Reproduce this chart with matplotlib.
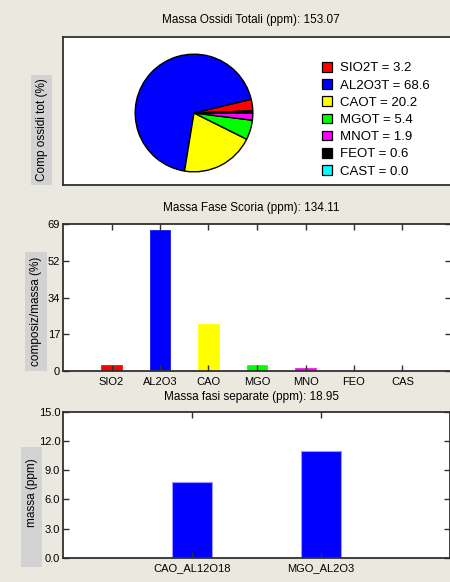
import numpy as np
import matplotlib
matplotlib.use("Agg")
import matplotlib.pyplot as plt
from matplotlib.patches import Rectangle

plt.rcParams['font.family'] = ['Liberation Sans', 'DejaVu Sans']

# ossidi totali (pie)
oxide_names = ["SIO2T", "AL2O3T", "CAOT", "MGOT", "MNOT", "FEOT", "CAST"]
oxide_pct = [3.2, 68.6, 20.2, 5.4, 1.9, 0.6, 0.0]
oxide_colors = ["#ff0000", "#0000ff", "#ffff00", "#00ff00", "#ff00ff", "#000000", "#00ffff"]
mass_total = 153.07

# fase scoria (bar)
slag_names = ["SIO2", "AL2O3", "CAO", "MGO", "MNO", "FEO", "CAS"]
slag_pct = [2.7, 66.2, 21.9, 2.7, 1.5, 0.0, 0.0]
slag_colors = ["#ff0000", "#0000ff", "#ffff00", "#00ff00", "#ff00ff", "#000000", "#00ffff"]
slag_yticks = [0, 17.25, 34.5, 51.75, 69]
slag_ylabels = ["0", "17", "34", "52", "69"]
mass_slag = 134.11

# fasi separate (bar)
phase_names = ["CAO_AL12O18", "MGO_AL2O3"]
phase_mass = [7.8, 11.0]
phase_yticks = [0, 3, 6, 9, 12, 15]
mass_phases = 18.95

W, H = 450, 582
bg = "#ebe9df"
fig = plt.figure(figsize=(W / 100, H / 100), dpi=100, facecolor=bg)


def frac(x0, y0, x1, y1):
    # pixel box (top-left origin) -> figure fraction rect
    return [x0 / W, 1 - y1 / H, (x1 - x0) / W, (y1 - y0) / H]


def style(ax):
    for s in ax.spines.values():
        s.set_color("#303030")
        s.set_linewidth(1.3)
    ax.tick_params(direction="in", length=4, width=1, color="#303030",
                   top=True, right=True, labelsize=8, pad=2)
    ax.tick_params(axis="x", pad=4)


def ylabel_box(x0, y0, x1, y1, tx, ty, text):
    fig.patches.append(Rectangle((x0 / W, 1 - y1 / H), (x1 - x0) / W, (y1 - y0) / H,
                                 transform=fig.transFigure, facecolor="#d2d2d2",
                                 edgecolor="none", zorder=0))
    fig.text(tx / W, 1 - ty / H, text, rotation=90, ha="center", va="center", fontsize=8.5)


# --- pannello 1: torta ---
ax1 = fig.add_axes(frac(63, 37, 452, 185))
style(ax1)
ax1.set_xticks([])
ax1.set_yticks([])
ax1.tick_params(top=False, right=False)
fig.text(251 / W, 1 - 20 / H, "Massa Ossidi Totali (ppm): %.2f" % mass_total,
         ha="center", va="center", fontsize=8.5)

axp = fig.add_axes(frac(134, 53, 254, 173))
wedges, _ = axp.pie(oxide_pct, colors=oxide_colors, startangle=2, counterclock=True,
                    wedgeprops=dict(edgecolor="black", linewidth=1.0))
axp.set_xlim(-1.02, 1.02)
axp.set_ylim(-1.02, 1.02)
axp.set_aspect("equal")
axp.axis("off")

labels = ["%s = %.1f" % (n, v) for n, v in zip(oxide_names, oxide_pct)]
handles = [Rectangle((0, 0), 1, 1, facecolor=c, edgecolor="black", linewidth=0.9)
           for c in oxide_colors]
fig.legend(handles, labels, loc="upper left", bbox_to_anchor=(322 / W, 1 - 62 / H),
           frameon=False, fontsize=9.5, handlelength=0.75, handleheight=0.75,
           handletextpad=0.6, labelspacing=0.36, borderpad=0, borderaxespad=0)
ylabel_box(31, 75, 52, 185, 41.5, 130, "Comp ossidi tot (%)")

# --- pannello 2: fase scoria ---
ax2 = fig.add_axes(frac(63, 224, 451, 371))
style(ax2)
xs = np.arange(1, len(slag_names) + 1)
ax2.bar(xs, slag_pct, width=0.42, color=slag_colors, edgecolor=slag_colors, linewidth=0.5)
ax2.set_xlim(0, len(slag_names) + 1)
ax2.set_ylim(0, 69)
ax2.set_xticks(xs)
ax2.set_xticklabels(slag_names)
ax2.set_yticks(slag_yticks)
ax2.set_yticklabels(slag_ylabels)
fig.text(251 / W, 1 - 208 / H, "Massa Fase Scoria (ppm): %.2f" % mass_slag,
         ha="center", va="center", fontsize=8.5)
ylabel_box(25, 252, 47, 371, 35.5, 311, "composiz/massa (%)")

# --- pannello 3: fasi separate ---
ax3 = fig.add_axes(frac(63, 411.7, 450, 558))
style(ax3)
xp = np.arange(1, len(phase_names) + 1)
ax3.bar(xp, phase_mass, width=0.305, color="#0000ff", edgecolor="#9a9aff", linewidth=0.8)
ax3.set_xlim(0, len(phase_names) + 1)
ax3.set_ylim(0, 15)
ax3.set_xticks(xp)
ax3.set_xticklabels(phase_names)
ax3.set_yticks(phase_yticks)
ax3.set_yticklabels(["%.1f" % v for v in phase_yticks])
fig.text(251 / W, 1 - 397 / H, "Massa fasi separate (ppm): %.2f" % mass_phases,
         ha="center", va="center", fontsize=8.5)
ylabel_box(21, 447, 42, 567, 31.5, 493, "massa (ppm)")

fig.savefig("out.png", dpi=100, facecolor=bg)
